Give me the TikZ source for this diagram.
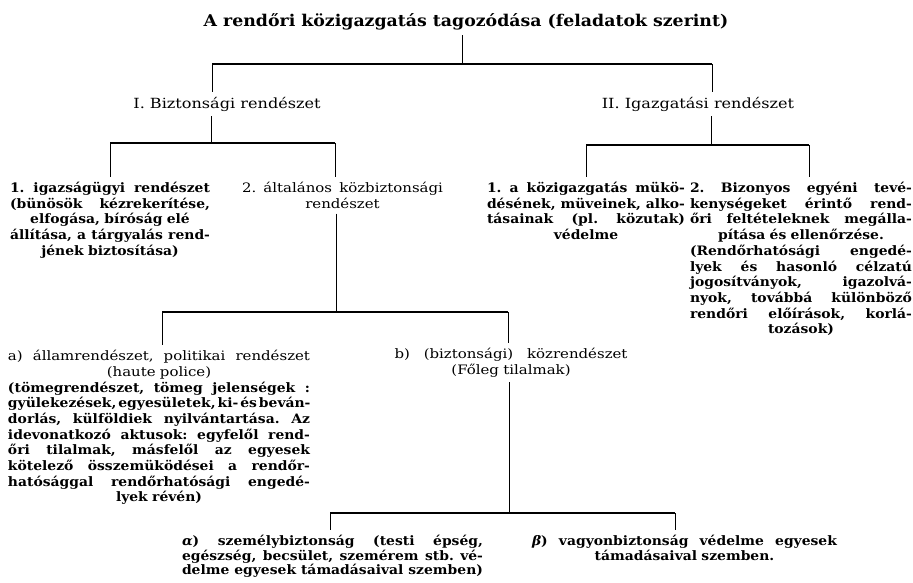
\documentclass[tikz,border=0pt]{standalone}
\usepackage{fontspec}
\setmainfont{DejaVu Serif}[UprightFeatures={FakeStretch=1.15}, BoldFeatures={FakeStretch=1.07}, BoldItalicFeatures={FakeStretch=1.07}]
\usepackage{xcolor}

% one justified line of a block
\newcommand{\jl}[1]{\leavevmode\hbox to \hsize{\frenchspacing\spaceskip=.25em plus 1fil minus .1em\relax #1}}

\begin{document}
\begin{tikzpicture}[x=1pt, y=-1pt,
    ttl/.style={font=\fontsize{16.2}{19}\selectfont\bfseries, inner sep=0pt},
    fej/.style={font=\fontsize{14}{16}\selectfont, inner sep=0pt},
    blk/.style={anchor=north, align=center, text width=#1, inner sep=0pt, font=\fontsize{13}{15.7}\selectfont},
    bblk/.style={blk=#1, font=\fontsize{13}{15.7}\selectfont\bfseries},
    gblk/.style={blk=#1, font=\fontsize{13}{14.5}\selectfont\bfseries},
    bar/.style={line width=1.2pt},
    drop/.style={line width=1pt, shorten >=5pt},
    stem/.style={line width=1pt, shorten <=5pt}]

    \useasboundingbox (0,0) rectangle (913,583);

    % Title and the two main branches
    \node[ttl] (cim) at (466,22) {A rendőri közigazgatás tagozódása (feladatok szerint)};
    \node[fej] (biz) at (227,104) {I. Biztonsági rendészet};
    \node[fej] (igaz) at (698,104) {II. Igazgatási rendészet};

    % Under I.
    \node[bblk=200] (igs) at (110,182) {\jl{1. igazságügyi rendészet}\\ \jl{(bünösök kézrekerítése,}\\ elfogása, bíróság elé\\ \jl{állítása, a tárgyalás rend-}\\ jének biztosítása)};
    \node[blk=201] (alt) at (342.5,182) {\jl{2. általános közbiztonsági}\\ rendészet};

    % Under II.
    \node[bblk=198] (muk) at (586,182) {\jl{1. a közigazgatás mükö-}\\ \jl{désének, müveinek, alko-}\\ \jl{tásainak (pl. közutak)}\\ védelme};
    \node[bblk=222] (egy) at (801,182) {\jl{2. Bizonyos egyéni tevé-}\\ \jl{kenységeket érintő rend-}\\ \jl{őri feltételeknek megálla-}\\ pítása és ellenőrzése.\\ \jl{(Rendőrhatósági engedé-}\\ \jl{lyek és hasonló célzatú}\\ \jl{jogosítványok, igazolvá-}\\ \jl{nyok, továbbá különböző}\\ \jl{rendőri előírások, korlá-}\\ tozások)};

    % Under 2.
    \node[blk=302] (allam) at (159,350) {\jl{a) államrendészet, politikai rendészet}\\ (haute police)\\ \bfseries \jl{(tömegrendészet, tömeg jelenségek :}\\ \jl{gyülekezések, egyesületek, ki- és beván-}\\ \jl{dorlás, külföldiek nyilvántartása. Az}\\ \jl{idevonatkozó aktusok: egyfelől rend-}\\ \jl{őri tilalmak, másfelől az egyesek}\\ \jl{kötelező összemüködései a rendőr-}\\ \jl{hatósággal rendőrhatósági engedé-}\\ lyek révén)};
    \node[blk=233] (koz) at (511,348) {\jl{b) (biztonsági) közrendészet}\\ (Főleg tilalmak)};

    % Under b)
    \node[gblk=301] (szem) at (332.5,535) {\jl{\textit{α}) személybiztonság (testi épség,}\\ \jl{egészség, becsület, szemérem stb. vé-}\\ \jl{delme egyesek támadásaival szemben)}};
    \node[gblk=305] (vagy) at (684.5,535) {\jl{\textit{β}) vagyonbiztonság védelme egyesek}\\ támadásaival szemben.};

    % Junctions
    \coordinate (j0) at (462,64);  \coordinate (j0l) at (212,64);  \coordinate (j0r) at (712,64);
    \coordinate (j1) at (211,143); \coordinate (j1l) at (110,143); \coordinate (j1r) at (335,143);
    \coordinate (j2) at (711,145); \coordinate (j2l) at (586,145); \coordinate (j2r) at (809,145);
    \coordinate (j3) at (336,312); \coordinate (j3l) at (162,312); \coordinate (j3r) at (508,312);
    \coordinate (j4) at (509,513); \coordinate (j4l) at (330,513); \coordinate (j4r) at (675,513);

    % Tree lines
    \draw[stem] (cim.south -| j0) -- (j0);
    \draw[bar] (j0l) -- (j0r);
    \draw[drop] (j0l) -- (j0l |- biz.north);
    \draw[drop] (j0r) -- (j0r |- igaz.north);

    \draw[stem] (j1 |- biz.south) -- (j1);
    \draw[bar] (j1l) -- (j1r);
    \draw[drop] (j1l) -- (j1l |- igs.north);
    \draw[drop] (j1r) -- (j1r |- alt.north);

    \draw[stem] (j2 |- igaz.south) -- (j2);
    \draw[bar] (j2l) -- (j2r);
    \draw[drop] (j2l) -- (j2l |- muk.north);
    \draw[drop] (j2r) -- (j2r |- egy.north);

    \draw[stem] (j3 |- alt.south) -- (j3);
    \draw[bar] (j3l) -- (j3r);
    \draw[drop] (j3l) -- (j3l |- allam.north);
    \draw[drop] (j3r) -- (j3r |- koz.north);

    \draw[stem] (j4 |- koz.south) -- (j4);
    \draw[bar] (j4l) -- (j4r);
    \draw[drop] (j4l) -- (j4l |- szem.north);
    \draw[drop] (j4r) -- (j4r |- vagy.north);

\end{tikzpicture}
\end{document}
